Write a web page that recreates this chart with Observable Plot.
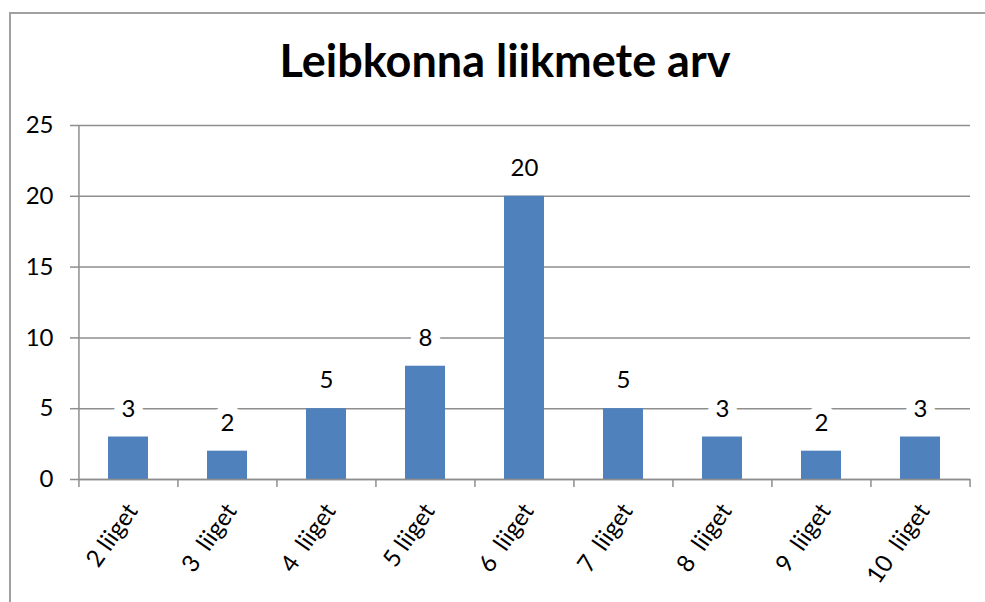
<!DOCTYPE html>
<html>
<head>
<meta charset="utf-8">
<script src="https://cdn.jsdelivr.net/npm/d3@7"></script>
<script src="https://cdn.jsdelivr.net/npm/@observablehq/plot@0.6"></script>
<style>
  html, body { margin: 0; padding: 0; background: #fff; overflow: hidden; }
  body { width: 985px; height: 602px; position: relative; font-family: Lato, "Liberation Sans", sans-serif; }
  #border { position: absolute; left: 9px; top: 12px; width: 2000px; height: 2000px; border: 2px solid #a0a0a0; box-sizing: border-box; pointer-events: none; }
  #title { position: relative; width: 1010px; height: 100px; box-sizing: border-box; padding-top: 38px; text-align: center; font-size: 45px; line-height: 45px; font-weight: bold; color: #000; }
  #chart svg { display: block; }
</style>
</head>
<body>
<div id="border"></div>
<div id="title">Leibkonna liikmete arv</div>
<div id="chart"></div>
<script>
const categories = ["2 liiget", "3\u00a0 liiget", "4\u00a0 liiget", "5 liiget", "6\u00a0 liiget", "7\u00a0 liiget", "8\u00a0 liiget", "9\u00a0 liiget", "10\u00a0 liiget"];
const counts = [3, 2, 5, 8, 20, 5, 3, 2, 3];
const yTicks = [0, 5, 10, 15, 20, 25];

const data = categories.map((c, i) => ({cat: c, value: counts[i]}));

const W = 985, H = 502, mL = 78, mR = 15, mT = 25, mB = 123;
const step = (W - mL - mR) / categories.length;
const grey = "#8e8e8e";
const fs = 24;

const chart = Plot.plot({
  width: W,
  height: H,
  marginLeft: mL,
  marginRight: mR,
  marginTop: mT,
  marginBottom: mB,
  style: {fontFamily: "Lato, 'Liberation Sans', sans-serif", fontSize: fs + "px", color: "#000", background: "#fff"},
  x: {domain: categories, paddingInner: 0.6, paddingOuter: 0.3, label: null},
  y: {domain: [0, 25], ticks: yTicks, label: null},
  marks: [
    Plot.gridY(yTicks, {stroke: grey, strokeOpacity: 1, strokeWidth: 1.5}),
    Plot.barY(data, {x: "cat", y: "value", fill: "#4F81BD"}),
    Plot.ruleY([0], {stroke: grey, strokeWidth: 1.5}),
    Plot.ruleX(categories, {x: d => d, dx: -step / 2, y1: 0, y2: 25, stroke: grey, strokeWidth: 1.5, filter: (d, i) => i === 0}),
    Plot.ruleX(categories, {x: d => d, dx: -step / 2, y1: 0, y2: 0, insetBottom: -8, stroke: grey, strokeWidth: 1.5}),
    Plot.ruleX(categories.slice(-1), {x: d => d, dx: step / 2, y1: 0, y2: 0, insetBottom: -8, stroke: grey, strokeWidth: 1.5}),
    Plot.text(data, {x: "cat", y: "value", text: d => String(d.value), dy: -28, fontSize: fs, fill: "#000", stroke: "white", strokeWidth: 18, strokeLinejoin: "round"}),
    Plot.axisY(yTicks, {tickSize: 8, tickPadding: 17, stroke: grey, strokeWidth: 1.5, fill: "#000", fontSize: fs, label: null}),
    Plot.axisX({tickSize: 0, tickRotate: -55, tickPadding: 27, dx: 4, fill: "#000", fontSize: fs, label: null})
  ]
});
document.getElementById("chart").appendChild(chart);
</script>
</body>
</html>
